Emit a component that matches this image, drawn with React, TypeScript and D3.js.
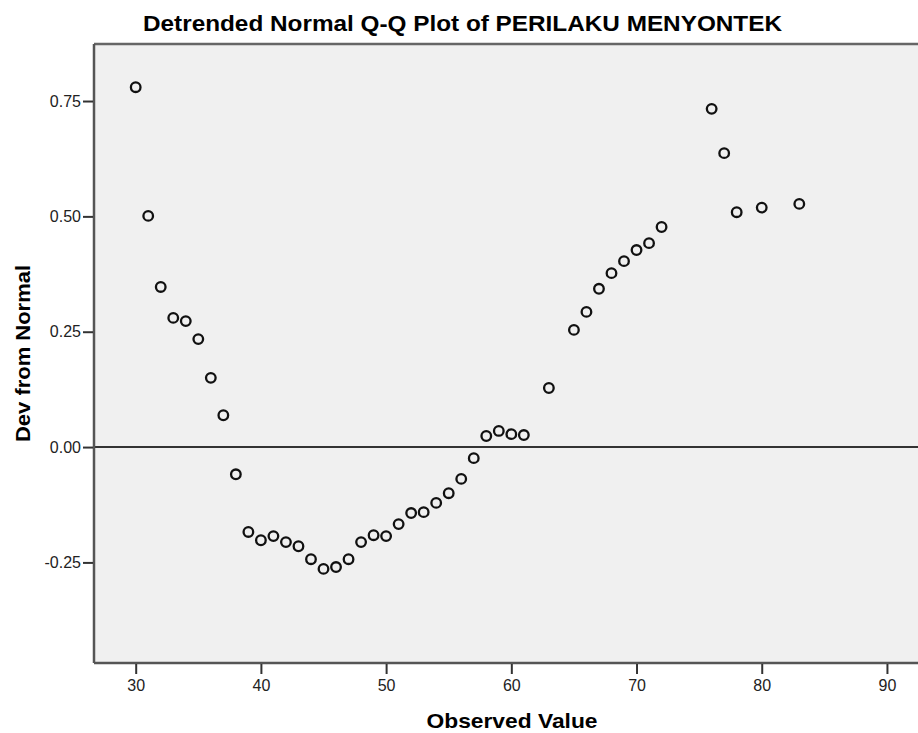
import { useEffect, useRef } from 'react';
import * as d3 from 'd3';

const observed = [
  30, 31, 32, 33, 34, 35, 36, 37, 38, 39, 40, 41, 42, 43, 44, 45, 46, 47, 48, 49, 50,
  51, 52, 53, 54, 55, 56, 57, 58, 59, 60, 61, 63, 65, 66, 67, 68, 69, 70, 71, 72, 76,
  77, 78, 80, 83,
];
const devFromNormal = [
  0.78, 0.501, 0.347, 0.28, 0.273, 0.234, 0.15, 0.069, -0.059, -0.184, -0.202, -0.193,
  -0.206, -0.215, -0.243, -0.264, -0.26, -0.243, -0.206, -0.191, -0.193, -0.167, -0.143,
  -0.141, -0.121, -0.1, -0.069, -0.024, 0.024, 0.035, 0.028, 0.026, 0.128, 0.254, 0.293,
  0.343, 0.377, 0.403, 0.427, 0.442, 0.477, 0.733, 0.637, 0.509, 0.519, 0.527,
];
const xTicks = [30, 40, 50, 60, 70, 80, 90];
const yTicks = [-0.25, 0, 0.25, 0.5, 0.75];

const WIDTH = 918;
const HEIGHT = 733;
const FONT = "'Liberation Sans', Arial, sans-serif";

export default function App() {
  const ref = useRef<SVGSVGElement | null>(null);

  useEffect(() => {
    if (!ref.current) return;
    const svg = d3.select(ref.current);
    svg.selectAll('*').remove();

    const margin = { top: 44, right: -2, bottom: 70, left: 94 };
    const innerWidth = WIDTH - margin.left - margin.right;
    const innerHeight = HEIGHT - margin.top - margin.bottom;

    const x = d3.scaleLinear().domain([26.67, 92.64]).range([0, innerWidth]);
    const y = d3.scaleLinear().domain([-0.468, 0.8736]).range([innerHeight, 0]);

    svg.append('rect').attr('width', WIDTH).attr('height', HEIGHT).attr('fill', '#fff');

    const g = svg.append('g').attr('transform', `translate(${margin.left},${margin.top})`);

    g.append('rect')
      .attr('width', innerWidth)
      .attr('height', innerHeight)
      .attr('fill', '#f0f0f0');

    // zero reference line
    g.append('line')
      .attr('x1', 0)
      .attr('x2', innerWidth)
      .attr('y1', y(0))
      .attr('y2', y(0))
      .attr('stroke', '#333')
      .attr('stroke-width', 2);

    g.selectAll('circle.pt')
      .data(observed.map((v, i) => [v, devFromNormal[i]]))
      .enter()
      .append('circle')
      .attr('class', 'pt')
      .attr('cx', (d) => x(d[0]))
      .attr('cy', (d) => y(d[1]))
      .attr('r', 4.8)
      .attr('fill', 'none')
      .attr('stroke', '#111')
      .attr('stroke-width', 2.3);

    // frame
    g.append('line')
      .attr('x1', 0).attr('x2', innerWidth).attr('y1', 0).attr('y2', 0)
      .attr('stroke', '#666').attr('stroke-width', 2.5);
    g.append('line')
      .attr('x1', 0).attr('x2', innerWidth).attr('y1', innerHeight).attr('y2', innerHeight)
      .attr('stroke', '#555').attr('stroke-width', 2.5);
    g.append('line')
      .attr('x1', 0).attr('x2', 0).attr('y1', 0).attr('y2', innerHeight)
      .attr('stroke', '#555').attr('stroke-width', 2.5);

    const xAxis = d3.axisBottom(x).tickValues(xTicks).tickSize(10).tickSizeOuter(0).tickPadding(6);
    const xg = g.append('g').attr('transform', `translate(0,${innerHeight + 1})`).call(xAxis);
    xg.select('.domain').remove();
    xg.selectAll('line').attr('stroke', '#333').attr('stroke-width', 2);
    xg.selectAll('text')
      .attr('font-family', FONT)
      .attr('font-size', 16)
      .attr('fill', '#222');

    const fmt = d3.format('.2f');
    const yAxis = d3
      .axisLeft(y)
      .tickValues(yTicks)
      .tickFormat((d) => fmt(Number(d)).replace('\u2212', '-'))
      .tickSize(10)
      .tickSizeOuter(0)
      .tickPadding(2);
    const yg = g.append('g').attr('transform', 'translate(-1,0)').call(yAxis);
    yg.select('.domain').remove();
    yg.selectAll('line').attr('stroke', '#333').attr('stroke-width', 2);
    yg.selectAll('text')
      .attr('font-family', FONT)
      .attr('font-size', 16)
      .attr('fill', '#222');

    svg.append('text')
      .attr('x', 462.5)
      .attr('y', 31)
      .attr('text-anchor', 'middle')
      .attr('font-family', FONT)
      .attr('font-weight', 'bold')
      .attr('font-size', 22)
      .attr('textLength', 639)
      .attr('lengthAdjust', 'spacingAndGlyphs')
      .text('Detrended Normal Q-Q Plot of PERILAKU MENYONTEK');

    svg.append('text')
      .attr('x', 512)
      .attr('y', 728)
      .attr('text-anchor', 'middle')
      .attr('font-family', FONT)
      .attr('font-weight', 'bold')
      .attr('font-size', 21)
      .attr('textLength', 171)
      .attr('lengthAdjust', 'spacingAndGlyphs')
      .text('Observed Value');

    svg.append('text')
      .attr('transform', 'translate(30,353.5) rotate(-90)')
      .attr('text-anchor', 'middle')
      .attr('font-family', FONT)
      .attr('font-weight', 'bold')
      .attr('font-size', 21)
      .attr('textLength', 177)
      .attr('lengthAdjust', 'spacingAndGlyphs')
      .text('Dev from Normal');
  }, []);

  return (
    <svg
      ref={ref}
      width={WIDTH}
      height={HEIGHT}
      style={{ position: 'absolute', left: 0, top: 0 }}
    />
  );
}
